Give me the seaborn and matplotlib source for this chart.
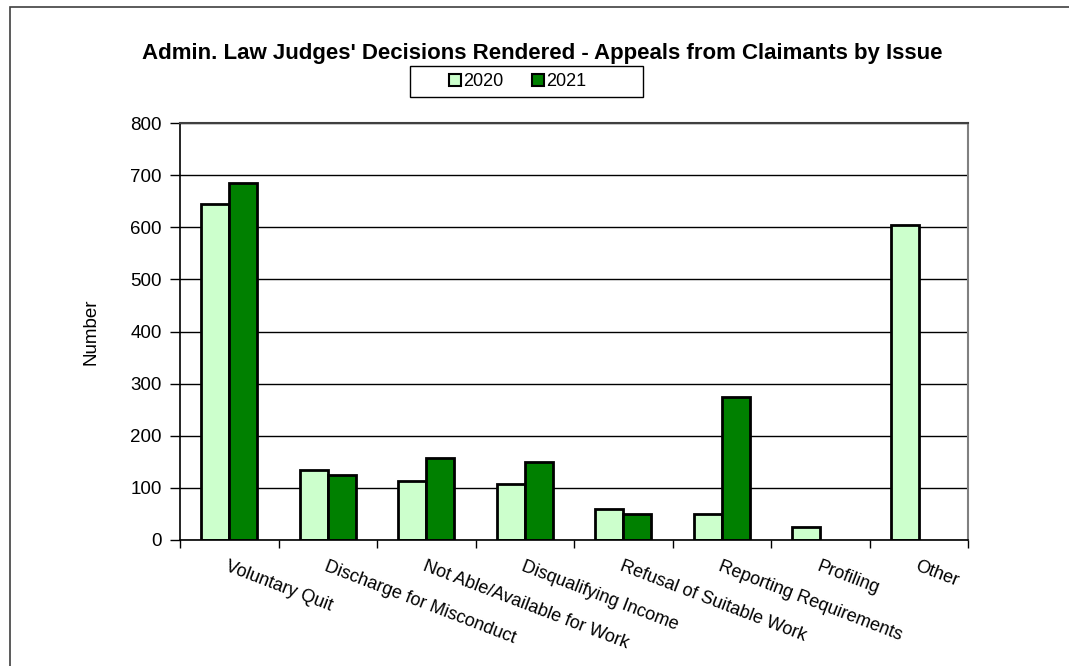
import pandas as pd
import numpy as np
import matplotlib.pyplot as plt
import seaborn as sns
from matplotlib.patches import Rectangle

# data
issues = ['Voluntary Quit', 'Discharge for Misconduct', 'Not Able/Available for Work',
          'Disqualifying Income', 'Refusal of Suitable Work', 'Reporting Requirements',
          'Profiling', 'Other']
y2020 = [645, 134, 113, 107, 60, 49, 25, 605]
y2021 = [685, 125, 157, 150, 49, 275, np.nan, np.nan]
years = ['2020', '2021']
colors = {'2020': '#CCFFCC', '2021': '#008000'}

df = pd.DataFrame({
    'Issue': issues * 2,
    'Year': ['2020'] * len(issues) + ['2021'] * len(issues),
    'Number': y2020 + y2021,
}).dropna()

sns.set_style('white')
plt.rcParams['font.family'] = ['Liberation Sans', 'DejaVu Sans']
plt.rcParams['text.color'] = 'black'
plt.rcParams['xtick.color'] = 'black'
plt.rcParams['ytick.color'] = 'black'
plt.rcParams['axes.labelcolor'] = 'black'

fig = plt.figure(figsize=(10.69, 6.66), dpi=100)
ax = fig.add_axes([180/1069, 1-540/666, (968-180)/1069, (540-123)/666])

sns.barplot(data=df, x='Issue', y='Number', hue='Year', order=issues, hue_order=years,
            palette=colors, width=0.57, edgecolor='black', linewidth=2, saturation=1,
            errorbar=None, ax=ax, legend=False)

ax.set_ylim(0, 800)
ax.set_xlim(-0.5, len(issues) - 0.5)
ax.set_yticks(range(0, 801, 100))
ax.yaxis.grid(True, color='black', linewidth=1)
ax.set_axisbelow(True)
ax.tick_params(axis='y', labelsize=13.5, length=7, width=1, left=True, pad=6)

# category labels at centres, tick marks at boundaries
ax.set_xticks(range(len(issues)))
ax.set_xticklabels(issues, rotation=-21, ha='left', va='top', rotation_mode='anchor', fontsize=13)
ax.tick_params(axis='x', which='major', length=0, pad=13)
ax.set_xticks(np.arange(-0.5, len(issues)), minor=True)
ax.tick_params(axis='x', which='minor', length=6, width=1, bottom=True)
ax.set_xlabel('')
ax.set_ylabel('Number', fontsize=13.5, labelpad=22)

for side in ['left', 'bottom']:
    ax.spines[side].set_color('black')
    ax.spines[side].set_linewidth(1.2)
ax.spines['top'].set_color('#404040')
ax.spines['top'].set_linewidth(1.5)
ax.spines['right'].set_color('#808080')
ax.spines['right'].set_linewidth(1.5)

fig.text(542/1069, 1-53/666, "Admin. Law Judges' Decisions Rendered - Appeals from Claimants by Issue",
         ha='center', va='center', fontsize=16, fontweight='bold')

# legend box drawn separately so it can be wider than its contents
fig.patches.append(Rectangle((410/1069, 1-97/666), 233/1069, 31/666, transform=fig.transFigure,
                             facecolor='white', edgecolor='black', linewidth=1))
handles = [plt.Line2D([0], [0], marker='s', linestyle='', markerfacecolor=colors[y],
                      markeredgecolor='black', markeredgewidth=1.5, markersize=9, label=y)
           for y in years]
fig.legend(handles=handles, loc='center', bbox_to_anchor=(518/1069, 1-81.5/666),
           ncol=2, frameon=False, fontsize=13, handlelength=0.6, handletextpad=0.15,
           columnspacing=1.6)

# outer chart border (left and top visible)
fig.patches.append(Rectangle((10/1069, -0.1), 1.2, 1.1 - 7/666, transform=fig.transFigure,
                             fill=False, edgecolor='#404040', linewidth=1.2))

fig.savefig('out.png', dpi=100)
